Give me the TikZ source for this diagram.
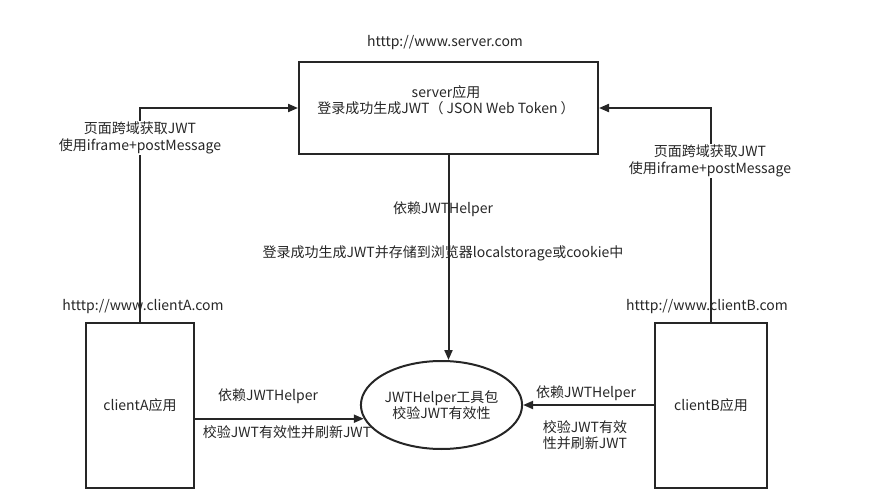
\documentclass[tikz,border=0pt]{standalone}
\usepackage{fontspec}
\setmainfont{Noto Sans CJK SC}
\usepackage{tikz}
\usetikzlibrary{arrows.meta,positioning,calc,shapes.geometric}

\begin{document}
\begin{tikzpicture}[x=1pt,y=-1pt,>={Triangle[length=10pt,width=8pt]},
  line width=2pt,
  every node/.style={font=\fontsize{14}{16.5}\selectfont,text=black!85},
  box/.style={draw=black!85,rectangle,inner sep=0pt},
  lbl/.style={align=center,inner sep=1pt},
  cut/.style={lbl,fill=white}]
  \useasboundingbox (0,0) rectangle (891,494);
  \node[box,minimum width=299pt,minimum height=92pt](server) at (448.5,108){};
  \node[lbl](servertxt) at (446,100){server应用\\登录成功生成JWT（ JSON Web Token ）};
  \node[box,minimum width=108pt,minimum height=165pt](clientA) at (140,405.5){clientA应用};
  \node[box,minimum width=112pt,minimum height=165pt](clientB) at (711,405.5){clientB应用};
  \node[ellipse,draw=black!85,minimum width=149pt,minimum height=88pt,inner sep=0pt,align=center](helper) at (441.5,405){JWTHelper工具包\\校验JWT有效性};
  % urls
  \node[lbl](serverurl) at (445,43){htttp://www.server.com};
  \node[lbl](clientAurl) at (143,307){htttp://www.clientA.com};
  \node[lbl](clientBurl) at (707,307){htttp://www.clientB.com};
  % connectors
  \draw[->,draw=black!85](clientA.north) |- (server.west);
  \draw[->,draw=black!85](clientB.north) |- (server.east);
  \draw[->,draw=black!85](server.south) -- (server.south |- helper.north);
  \draw[->,draw=black!85](helper.190 -| clientA.east) -- (helper.190);
  \draw[->,draw=black!85](clientB.west |- helper.east) -- (helper.east);
  % labels
  \node[cut](crossA) at (140,138){页面跨域获取JWT\\使用iframe+postMessage};
  \node[cut](crossB) at (710,161){页面跨域获取JWT\\使用iframe+postMessage};
  \node[lbl](depS) at (443,209){依赖JWTHelper};
  \node[lbl](storeS) at (443,253){登录成功生成JWT并存储到浏览器localstorage或cookie中};
  \node[lbl](depA) at (268,396){依赖JWTHelper};
  \node[lbl](checkA) at (287,432){校验JWT有效性并刷新JWT};
  \node[lbl](depB) at (586,393){依赖JWTHelper};
  \node[lbl](checkB) at (585,435){校验JWT有效\\性并刷新JWT};
\end{tikzpicture}
\end{document}
